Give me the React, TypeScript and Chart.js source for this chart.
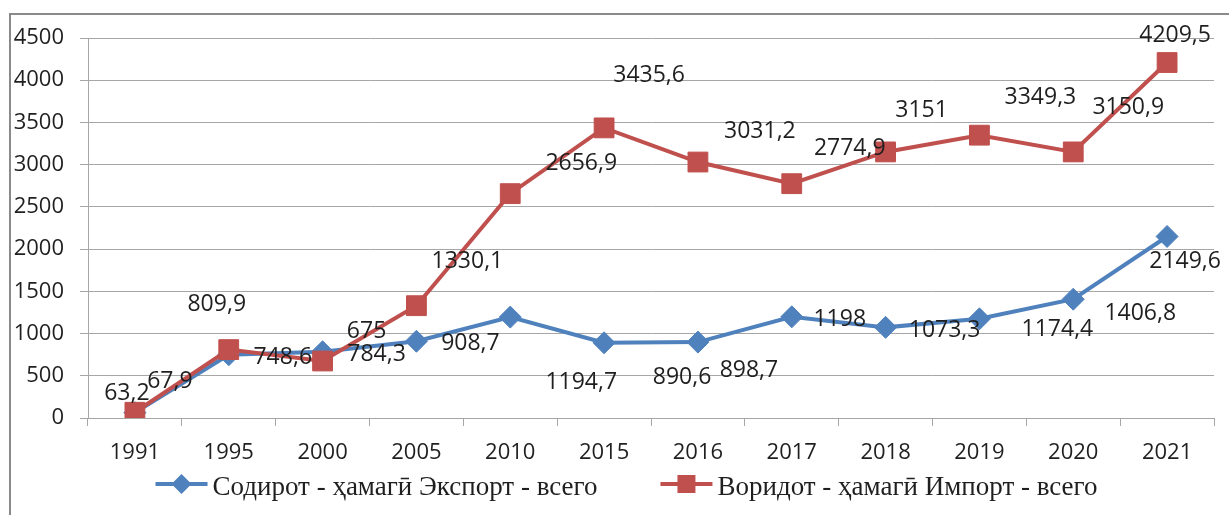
import React, { useEffect, useRef } from "react";
import { Chart, registerables } from "chart.js";

Chart.register(...registerables);

const categories = ["1991", "1995", "2000", "2005", "2010", "2015", "2016", "2017", "2018", "2019", "2020", "2021"];
const exportValues = [63.2, 748.6, 784.3, 908.7, 1194.7, 890.6, 898.7, 1198, 1073.3, 1174.4, 1406.8, 2149.6];
const importValues = [67.9, 809.9, 675, 1330.1, 2656.9, 3435.6, 3031.2, 2774.9, 3151, 3349.3, 3150.9, 4209.5];
const yTicks = [0, 500, 1000, 1500, 2000, 2500, 3000, 3500, 4000, 4500];
const seriesNames = ["Содирот - ҳамагӣ Экспорт - всего", "Воридот - ҳамагӣ Импорт - всего"];

// pixel offsets of each data label from its point (Excel-style placement)
const exportLabelOffsets = [[-8, -19], [54, 3], [54, 3], [54, 2], [71, 65], [78, 35], [51, 28], [48, 3], [59, 3], [78, 11], [67, 14], [18, 25]];
const importLabelOffsets = [[35, -31], [-12, -45], [44, -30], [51, -44], [71, -30], [45, -52], [62, -31], [58, -35], [36, -41], [61, -38], [55, -44], [8, -27]];

const BLUE = "#4F81BD";
const RED = "#C0504D";
const GRID = "#a6a6a6";
const TEXT = "#1f1f1f";
const AXIS_FONT = { family: "'Open Sans', sans-serif", size: 22 };
const LABEL_FONT = "23px 'Open Sans', sans-serif";
const LEGEND_FONT = "27px 'Liberation Serif', serif";

const fmt = (v: number) => String(v).replace(".", ",");

const dataLabelPlugin = {
  id: "dataLabels",
  afterDatasetsDraw(chart: any) {
    const ctx = chart.ctx;
    ctx.save();
    ctx.font = LABEL_FONT;
    ctx.fillStyle = TEXT;
    ctx.textAlign = "center";
    ctx.textBaseline = "middle";
    chart.data.datasets.forEach((ds: any, di: number) => {
      const meta = chart.getDatasetMeta(di);
      const offs = ds.labelOffsets as number[][];
      meta.data.forEach((el: any, i: number) => {
        const [dx, dy] = offs[i];
        ctx.fillText(fmt(ds.data[i]), el.x + dx, el.y + dy);
      });
    });
    ctx.restore();
  },
};

const legendPlugin = {
  id: "customLegend",
  afterDraw(chart: any) {
    const ctx = chart.ctx;
    ctx.save();
    ctx.font = LEGEND_FONT;
    const lineLen = 52;
    const textGap = 5;
    const itemGap = 63;
    const items = [
      { name: seriesNames[0], color: BLUE, style: "diamond" },
      { name: seriesNames[1], color: RED, style: "square" },
    ];
    const widths = items.map((it) => lineLen + textGap + ctx.measureText(it.name).width);
    const total = widths[0] + itemGap + widths[1];
    let x = chart.width / 2 + 12 - total / 2;
    const yLine = 484;
    const yText = 495;
    items.forEach((it, i) => {
      ctx.strokeStyle = it.color;
      ctx.lineWidth = 4;
      ctx.beginPath();
      ctx.moveTo(x, yLine);
      ctx.lineTo(x + lineLen, yLine);
      ctx.stroke();
      ctx.fillStyle = it.color;
      const cx = x + lineLen / 2;
      ctx.beginPath();
      if (it.style === "diamond") {
        ctx.moveTo(cx, yLine - 10);
        ctx.lineTo(cx + 10, yLine);
        ctx.lineTo(cx, yLine + 10);
        ctx.lineTo(cx - 10, yLine);
        ctx.closePath();
      } else {
        ctx.rect(cx - 9, yLine - 9, 18, 18);
      }
      ctx.fill();
      ctx.fillStyle = TEXT;
      ctx.textAlign = "left";
      ctx.textBaseline = "alphabetic";
      ctx.fillText(it.name, x + lineLen + textGap, yText);
      x += widths[i] + itemGap;
    });
    ctx.restore();
  },
};

export default function App() {
  const ref = useRef<HTMLCanvasElement | null>(null);
  useEffect(() => {
    if (!ref.current) return;
    const chart = new Chart(ref.current, {
      type: "line",
      data: {
        labels: categories,
        datasets: [
          {
            label: seriesNames[0],
            data: exportValues,
            borderColor: BLUE,
            backgroundColor: BLUE,
            pointBackgroundColor: BLUE,
            pointBorderColor: BLUE,
            pointStyle: "rectRot",
            pointRadius: 11,
            pointBorderWidth: 1,
            borderWidth: 4,
            tension: 0,
            order: 2,
            labelOffsets: exportLabelOffsets,
          } as any,
          {
            label: seriesNames[1],
            data: importValues,
            borderColor: RED,
            backgroundColor: RED,
            pointBackgroundColor: RED,
            pointBorderColor: RED,
            pointStyle: "rect",
            pointRadius: 14,
            pointBorderWidth: 1,
            borderWidth: 4,
            tension: 0,
            order: 1,
            labelOffsets: importLabelOffsets,
          } as any,
        ],
      },
      options: {
        responsive: false,
        animation: false,
        devicePixelRatio: 1,
        layout: { padding: { left: 0, top: 38, right: 12, bottom: 47 } },
        plugins: { legend: { display: false }, tooltip: { enabled: false } },
        scales: {
          x: {
            offset: true,
            grid: { offset: true, drawOnChartArea: false, tickLength: 8, color: GRID, lineWidth: 1 },
            border: { display: true, color: GRID, width: 1 },
            ticks: { padding: 14, color: TEXT, font: AXIS_FONT, maxRotation: 0, autoSkip: false },
            afterFit: (s: any) => {
              s.height = 50;
            },
          },
          y: {
            min: 0,
            max: 4500,
            grid: { color: GRID, lineWidth: 1, tickLength: 8 },
            border: { display: true, color: GRID, width: 1 },
            ticks: { padding: 16, color: TEXT, font: AXIS_FONT, callback: (v: any) => String(v) },
            afterBuildTicks: (s: any) => {
              s.ticks = yTicks.map((v) => ({ value: v }));
            },
            afterFit: (s: any) => {
              s.width = 88;
            },
          },
        },
      },
      plugins: [dataLabelPlugin, legendPlugin],
    });
    return () => chart.destroy();
  }, []);

  return (
    <div style={{ position: "fixed", left: 0, top: 0, width: 1229, height: 515, overflow: "hidden", background: "#fff" }}>
      <div
        style={{
          position: "absolute",
          left: 9,
          top: 13,
          width: 1300,
          height: 700,
          border: "2px solid #8a8a8a",
          boxSizing: "border-box",
        }}
      />
      <canvas ref={ref} width={1229} height={515} style={{ position: "absolute", left: 0, top: 0, width: 1229, height: 515 }} />
    </div>
  );
}
